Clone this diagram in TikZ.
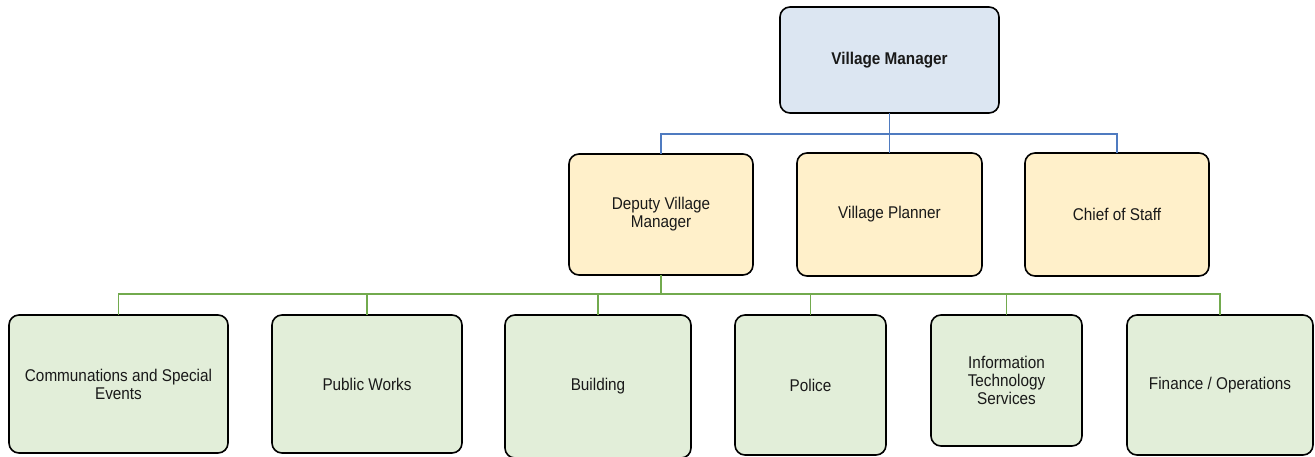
\documentclass[tikz,border=0pt]{standalone}
\usepackage{fontspec}
\setmainfont{Liberation Sans}
\newfontfamily\boxfont[FakeStretch=0.9]{Liberation Sans}
\begin{document}
\begin{tikzpicture}[x=1pt,y=-1pt,
  unit/.style={draw=black, line width=1.6pt, rounded corners=10pt, inner sep=2pt, outer sep=0pt,
    align=center, text=black!90, font=\boxfont\fontsize{17}{18}\selectfont},
  topbox/.style={unit, fill=vmblue},
  midbox/.style={unit, fill=staffyellow},
  deptbox/.style={unit, fill=deptgreen},
  bluelink/.style={draw=linkblue, line width=1.4pt},
  greenlink/.style={draw=linkgreen, line width=1.6pt}]
\definecolor{vmblue}{HTML}{DCE6F2}
\definecolor{staffyellow}{HTML}{FFF0CA}
\definecolor{deptgreen}{HTML}{E2EED9}
\definecolor{linkblue}{HTML}{4F7BC0}
\definecolor{linkgreen}{HTML}{72AA4E}
\useasboundingbox (0,0) rectangle (1315,457);

% top level
\node[topbox, minimum width=219pt, minimum height=106pt, font=\boxfont\fontsize{17}{18}\selectfont\bfseries]
  (vm) at (889.5,60) {Village Manager};

% second level
\node[midbox, minimum width=184pt, minimum height=121pt] (dvm) at (661,214.5) {Deputy Village\\Manager};
\node[midbox, minimum width=185pt, minimum height=123pt] (vp) at (889.5,214.5) {Village Planner};
\node[midbox, minimum width=184pt, minimum height=123pt] (cos) at (1117,214.5) {Chief of Staff};

% departments
\node[deptbox, minimum width=219pt, minimum height=138pt] (com) at (118.5,384) {Communations and Special\\Events};
\node[deptbox, minimum width=190pt, minimum height=138pt] (pw) at (367,384) {Public Works};
\node[deptbox, minimum width=186pt, minimum height=143pt] (bld) at (598,386.5) {Building};
\node[deptbox, minimum width=151pt, minimum height=140pt] (pol) at (810.5,385) {Police};
\node[deptbox, minimum width=151pt, minimum height=131pt] (its) at (1006.5,380.5) {Information\\Technology\\Services};
\node[deptbox, minimum width=186pt, minimum height=140pt] (fin) at (1220,385) {Finance / Operations};

% bus lines
\coordinate (bus1) at (0,134);
\coordinate (bus2) at (0,294);

\draw[bluelink] (vm.south) -- (vm.south |- bus1);
\foreach \c in {dvm,vp,cos}
  \draw[bluelink] (vm.south |- bus1) -| (\c.north);

\draw[greenlink] (dvm.south) -- (dvm.south |- bus2);
\foreach \c in {com,pw,bld,pol,its,fin}
  \draw[greenlink] (dvm.south |- bus2) -| (\c.north);
\end{tikzpicture}
\end{document}
